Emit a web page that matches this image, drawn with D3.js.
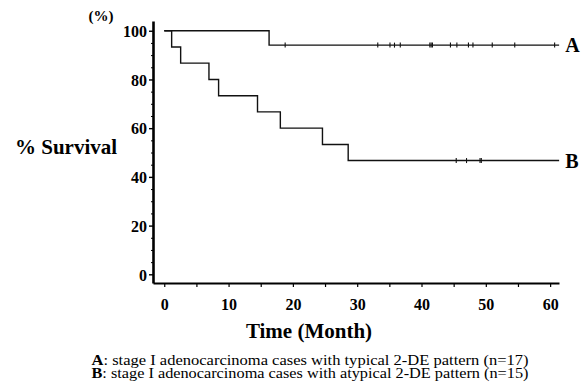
<!DOCTYPE html>
<html>
<head>
<meta charset="utf-8">
<script src="https://cdn.jsdelivr.net/npm/d3@7.9.0/dist/d3.min.js"></script>
<style>
  body { margin: 0; background: #fff; }
  svg text { font-family: 'Liberation Serif', 'Times New Roman', serif !important; }
</style>
</head>
<body>
<svg id="chart" width="588" height="391"></svg>
<script>
// group A: one death, then censored follow-up
const stepTimesA = [0, 16.3];
const stepSurvA = [100, 94.1];
const censorA = [18.8, 33.2, 35.1, 35.8, 36.7, 41.3, 41.5, 41.7, 44.5, 45.5, 47.3, 48.0, 51.0, 54.5, 60.7];

// group B
const stepTimesB = [0, 1.15, 2.55, 6.95, 8.45, 14.5, 18.05, 24.6, 28.6];
const stepSurvB = [100, 93.3, 86.7, 80, 73.3, 66.7, 60, 53.3, 46.7];
const censorB = [45.4, 47.0, 49.1, 49.3];

const followUpEnd = 61.4;
const xTicks = [0, 5, 10, 15, 20, 25, 30, 35, 40, 45, 50, 55, 60];
const yMajor = [0, 20, 40, 60, 80, 100];
const yMinor = [5, 10, 15, 25, 30, 35, 45, 50, 55, 65, 70, 75, 85, 90, 95];

const svg = d3.select('#chart');

const x = d3.scaleLinear().domain([-1.75, 61.38]).range([153, 559]);
const y = d3.scaleLinear().domain([-3.57, 104]).range([283, 21]);

// axes
const xAxis = svg.append('g')
    .attr('transform', `translate(0, ${y(-3.57)})`)
    .call(d3.axisBottom(x).tickValues(xTicks).tickSize(4).tickSizeOuter(0).tickPadding(12)
        .tickFormat((d) => (d % 10 === 0 ? d : '')));
xAxis.select('.domain').attr('stroke-width', 2);
xAxis.selectAll('line').attr('stroke-width', 1.2);
xAxis.selectAll('text').attr('font-size', 16).attr('font-weight', 'bold');

svg.append('g')
    .attr('transform', `translate(${x(-1.75)}, 0)`)
    .call(d3.axisLeft(y).tickValues(yMinor).tickSize(2).tickFormat(''))
    .call((g) => g.select('.domain').remove())
    .selectAll('line').attr('stroke-width', 1);

const yAxis = svg.append('g')
    .attr('transform', `translate(${x(-1.75)}, 0)`)
    .call(d3.axisLeft(y).tickValues(yMajor).tickSize(4).tickSizeOuter(0).tickPadding(2));
yAxis.select('.domain').attr('stroke-width', 2.6);
yAxis.selectAll('line').attr('stroke-width', 1.4);
yAxis.selectAll('text').attr('font-size', 16).attr('font-weight', 'bold').attr('dy', '0.36em');

// survival curves
const line = d3.line()
    .x((d) => x(d[0]))
    .y((d) => y(d[1]))
    .curve(d3.curveStepAfter);

function curvePoints(times, surv) {
    const pts = times.map((t, i) => [t, surv[i]]);
    pts.push([followUpEnd, surv[surv.length - 1]]);
    return pts;
}

const curves = [
    { name: 'A', times: stepTimesA, surv: stepSurvA, censor: censorA },
    { name: 'B', times: stepTimesB, surv: stepSurvB, censor: censorB },
];

curves.forEach((c) => {
    svg.append('path')
        .attr('d', line(curvePoints(c.times, c.surv)))
        .attr('fill', 'none')
        .attr('stroke', '#111')
        .attr('stroke-width', 1.4);

    const last = c.surv[c.surv.length - 1];
    svg.append('g')
        .selectAll('line')
        .data(c.censor)
        .join('line')
        .attr('x1', (d) => x(d))
        .attr('x2', (d) => x(d))
        .attr('y1', y(last) - 2.5)
        .attr('y2', y(last) + 2.5)
        .attr('stroke', '#111')
        .attr('stroke-width', 1.1);

    svg.append('text')
        .attr('x', x(followUpEnd) + 6)
        .attr('y', y(last))
        .attr('dy', '0.35em')
        .attr('font-size', 20)
        .attr('font-weight', 'bold')
        .text(c.name);
});

// titles
svg.append('text')
    .attr('x', 101).attr('y', 21)
    .attr('text-anchor', 'middle')
    .attr('font-size', 15).attr('font-weight', 'bold')
    .text('(%)');

svg.append('text')
    .attr('x', 15).attr('y', 154)
    .attr('font-size', 21).attr('font-weight', 'bold')
    .text('% Survival');

svg.append('text')
    .attr('x', 309).attr('y', 338)
    .attr('text-anchor', 'middle')
    .attr('font-size', 21).attr('font-weight', 'bold')
    .text('Time (Month)');

// caption
const captions = [
    ['A', ': stage I adenocarcinoma cases with typical 2-DE pattern (n=17)'],
    ['B', ': stage I adenocarcinoma cases with atypical 2-DE pattern (n=15)'],
];
captions.forEach((c, i) => {
    const t = svg.append('text')
        .attr('x', 91.5).attr('y', 364.5 + i * 13.5)
        .attr('font-size', 14)
        .attr('textLength', 437)
        .attr('lengthAdjust', 'spacingAndGlyphs');
    t.append('tspan').attr('font-weight', 'bold').text(c[0]);
    t.append('tspan').text(c[1]);
});
</script>
</body>
</html>
